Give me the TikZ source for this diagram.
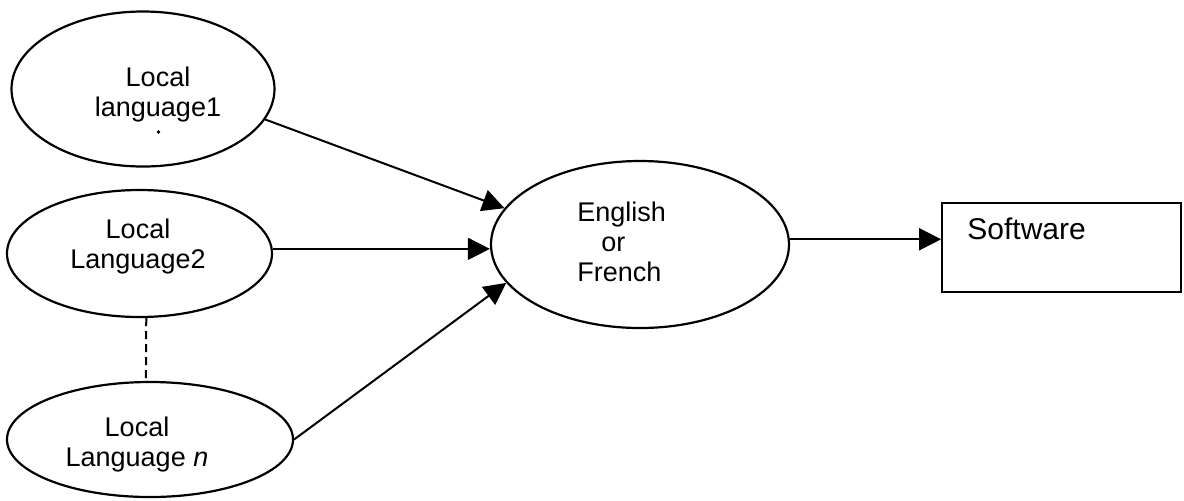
\documentclass[tikz,border=0pt]{standalone}
\usepackage{fontspec}
\setmainfont{Liberation Sans}
\usetikzlibrary{shapes.geometric,arrows.meta}
\begin{document}
\begin{tikzpicture}[x=0.5pt,y=-0.5pt,
  bubble/.style={draw, ellipse, line width=1.1pt, inner sep=0pt},
  lbl/.style={font=\fontsize{13.5}{15}\selectfont, inner sep=0pt, align=center},
  flow/.style={line width=1pt, -{Triangle[length=11pt,width=11pt]}},
  ]
\useasboundingbox (0,0) rectangle (1184,500);

% source languages
\node[bubble, minimum width=131.5pt, minimum height=77.5pt] (E1) at (143,89) {};
\node[bubble, minimum width=132.5pt, minimum height=63.5pt] (E2) at (139.5,253.5) {};
\node[bubble, minimum width=143pt, minimum height=57.5pt] (En) at (150,439.5) {};

% pivot language and target
\node[bubble, minimum width=149pt, minimum height=83.5pt] (mid) at (640,244.5) {};
\node[draw, line width=0.9pt, minimum width=119.5pt, minimum height=44.5pt, inner sep=0pt] (box) at (1061.5,247.5) {};

% labels
\node[lbl] (L1) at (158,95) {Local\\language1};
\node[circle, fill, inner sep=0pt, minimum size=1.8pt] (mark) at (158.5,132) {};
\node[lbl] (L2) at (138,246.5) {Local\\Language2};
\node[lbl] (Ln) at (137,445) {Local\\Language \textit{n}};
\node[lbl, anchor=west, align=left] (LM) at (577,242) {English\\\hspace*{12pt}or\\French};
\node[font=\fontsize{15}{18}\selectfont, inner sep=0pt, anchor=base west] (LS) at (967,239) {Software};

% connectors
\draw[flow] (E1.-14) -- (mid.165);
\draw[flow, line width=0.75pt] (E2.2) -- (E2.2 -| mid.west);
\draw[flow] (En.east) -- (mid.196);
\draw[flow] (mid.2) -- (mid.2 -| box.west);
\draw[line width=1pt, dash pattern=on 4pt off 2.5pt] (E2.-84) -- (En.94);
\end{tikzpicture}
\end{document}
